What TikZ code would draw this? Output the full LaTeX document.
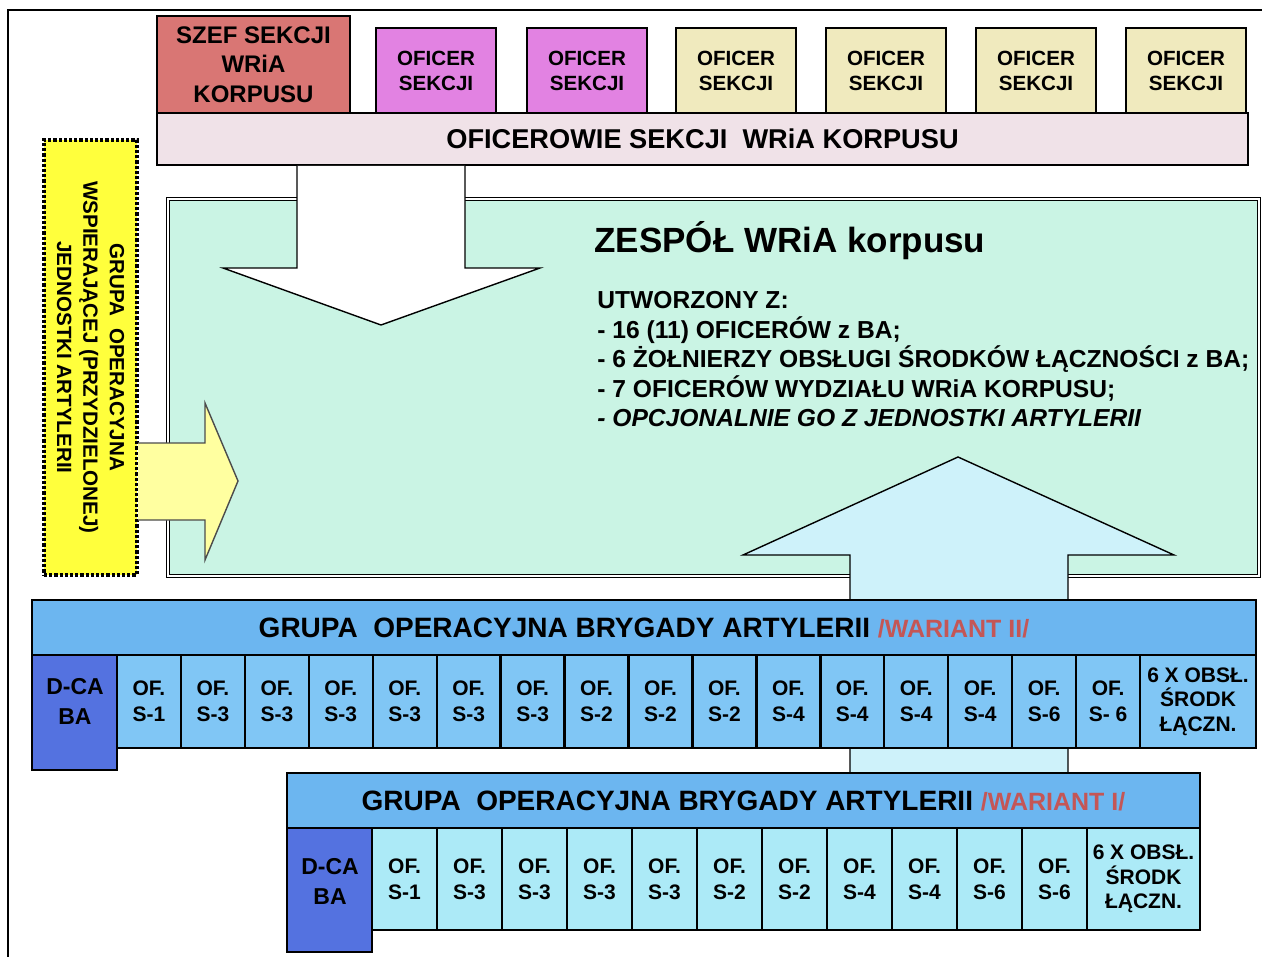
\documentclass[tikz,border=0pt]{standalone}
\usepackage{fontspec}
\setmainfont{Liberation Sans}
\usepackage{tikz}
\usetikzlibrary{positioning, fit, calc}
\definecolor{szefred}{RGB}{217,118,116}
\definecolor{oficerpink}{RGB}{226,130,226}
\definecolor{oficerbeige}{RGB}{240,234,190}
\definecolor{barpink}{RGB}{240,226,232}
\definecolor{zespolgreen}{RGB}{202,244,228}
\definecolor{gopyellow}{RGB}{255,255,60}
\definecolor{arrowyellow}{RGB}{255,255,160}
\definecolor{arrowcyan}{RGB}{206,242,250}
\definecolor{headblue}{RGB}{108,182,240}
\definecolor{cellblue}{RGB}{128,198,245}
\definecolor{cellcyan}{RGB}{172,234,247}
\definecolor{dcablue}{RGB}{84,114,224}
\definecolor{wariantred}{RGB}{196,86,86}
\tikzset{
  box/.style={draw, line width=1pt, inner sep=0pt},
  cell/.style={box, line width=1.2pt},
  head/.style={cell, fill=headblue},
  lab/.style={inner sep=0pt, align=center, font=\bfseries\fontsize{10.5}{13}\selectfont},
  headlab/.style={lab, font=\bfseries\fontsize{14}{16}\selectfont},
  blockarrow/.style={line width=0.7pt, line join=miter}
}

\begin{document}
\begin{tikzpicture}[x=0.5pt, y=-0.5pt]
  \useasboundingbox (0,0) rectangle (1268,957);
  \draw[line width=0.6pt] (8,957) -- (8,10) -- (1262,10);

  \node[box, fill=szefred, fit={(157,16) (350,113)}] (szef) {};
  \node[lab, font=\bfseries\fontsize{12}{14.75}\selectfont] (szef-lab) at (szef.center) {SZEF SEKCJI\\WRiA\\KORPUSU};
  \foreach \x/\c [count=\i] in {376/oficerpink, 527/oficerpink, 676/oficerbeige, 826/oficerbeige, 976/oficerbeige, 1126/oficerbeige}{
    \node[box, fill=\c, fit={(\x,28) ({\x+120},113)}] (oficer\i) {};
    \node[lab, font=\bfseries\fontsize{10.3}{12.5}\selectfont] (oficer\i-lab) at (oficer\i.center) {OFICER\\SEKCJI};
  }
  \node[box, fill=barpink, fit={(157,113) (1248,165)}] (oficerowie) {};
  \node[lab, font=\bfseries\fontsize{13.6}{16}\selectfont] (oficerowie-lab) at (oficerowie.center) {OFICEROWIE SEKCJI\ \ WRiA KORPUSU};

  \node[box, line width=0.5pt, double, double distance=1.2pt, fill=zespolgreen, fit={(168,199) (1259,576)}] (zespol) {};
  \node[anchor=west, inner sep=0pt, font=\bfseries\fontsize{17.5}{21}\selectfont] (zespol-tyt) at (594,241) {ZESPÓŁ WRiA korpusu};
  \node[anchor=north west, align=left, inner sep=0pt, font=\bfseries\fontsize{12.3}{14.75}\selectfont] (zespol-sklad) at (597,291) {UTWORZONY Z:\\- 16 (11) OFICERÓW z BA;\\- 6 ŻOŁNIERZY OBSŁUGI ŚRODKÓW ŁĄCZNOŚCI z BA;\\- 7 OFICERÓW WYDZIAŁU WRiA KORPUSU;\\\textit{- OPCJONALNIE GO Z JEDNOSTKI ARTYLERII}};

  \filldraw[blockarrow, fill=white] (297,166) -- (297,268) -- (223,268) -- (381,325) -- (540,268) -- (465,268) -- (465,166);

  \node[box, fill=gopyellow, line width=1.6pt, densely dotted, fit={(44,140) (137,575)}] (gowsp) {};
  \node[lab, rotate=-90, font=\bfseries\fontsize{10.3}{13.2}\selectfont] (gowsp-lab) at (gowsp.center) {GRUPA\ \ OPERACYJNA\\WSPIERAJĄCEJ (PRZYDZIELONEJ)\\JEDNOSTKI ARTYLERII};
  \filldraw[blockarrow, draw=black!70, fill=arrowyellow] (138,443) -- (205,443) -- (205,403) -- (238,481) -- (205,560) -- (205,520) -- (138,520);

  \filldraw[blockarrow, fill=arrowcyan] (850,773) -- (850,555) -- (743,555) -- (958,457) -- (1174,555) -- (1068,555) -- (1068,773);

  \node[head, fit={(32,600) (1256,655)}] (goii) {};
  \node[headlab] (goii-lab) at (goii.center) {GRUPA\ \ OPERACYJNA BRYGADY ARTYLERII \textcolor{wariantred}{\fontsize{12.5}{14}\selectfont/WARIANT II/}};
  \node[cell, fill=dcablue, fit={(32,655) (117,770)}] (dcaii) {};
  \node[lab, font=\bfseries\fontsize{11.5}{15}\selectfont] (dcaii-lab) at (75,701) {D-CA\\BA};
  \foreach \lab [count=\i from 0] in {S-1,S-3,S-3,S-3,S-3,S-3,S-3,S-2,S-2,S-2,S-4,S-4,S-4,S-4,S-6,S-\ 6}{
    \node[cell, fill=cellblue, fit={({117+\i*63.94},655) ({117+(\i+1)*63.94},748)}] (ofii\i) {};
    \node[lab] (ofii\i-lab) at (ofii\i.center) {OF.\\\lab};
  }
  \node[cell, fill=cellblue, fit={(1140,655) (1256,748)}] (obslii) {};
  \node[lab, font=\bfseries\fontsize{10.5}{12.25}\selectfont] (obslii-lab) at (obslii.center) {6 X OBSŁ.\\ŚRODK\\ŁĄCZN.};

  \node[head, fit={(287,773) (1200,828)}] (goi) {};
  \node[headlab] (goi-lab) at (goi.center) {GRUPA\ \ OPERACYJNA BRYGADY ARTYLERII \textcolor{wariantred}{\fontsize{12.5}{14}\selectfont/WARIANT I/}};
  \node[cell, fill=dcablue, fit={(287,828) (372,952)}] (dcai) {};
  \node[lab, font=\bfseries\fontsize{11.5}{15}\selectfont] (dcai-lab) at (330,881) {D-CA\\BA};
  \foreach \lab [count=\i from 0] in {S-1,S-3,S-3,S-3,S-3,S-2,S-2,S-4,S-4,S-6,S-6}{
    \node[cell, fill=cellcyan, fit={({372+\i*65},828) ({372+(\i+1)*65},930)}] (ofi\i) {};
    \node[lab] (ofi\i-lab) at (ofi\i.center) {OF.\\\lab};
  }
  \node[cell, fill=cellcyan, fit={(1087,828) (1200,930)}] (obsli) {};
  \node[lab, font=\bfseries\fontsize{10.5}{12.25}\selectfont] (obsli-lab) at (obsli.center) {6 X OBSŁ.\\ŚRODK\\ŁĄCZN.};
\end{tikzpicture}
\end{document}
